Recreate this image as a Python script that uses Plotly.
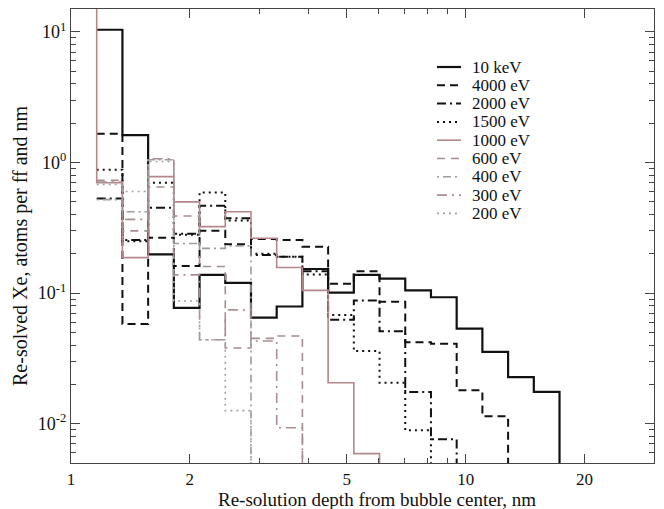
import math
import plotly.graph_objects as go

# Bin edges of the depth histogram (nm)
EDGES = [1.0, 1.1618, 1.3499, 1.5683, 1.8221, 2.1170, 2.4596, 2.8577, 3.3201,
         3.8574, 4.4817, 5.2070, 6.0496, 7.0287, 8.1662, 9.4877, 11.0232,
         12.8071, 14.8797, 17.2878]

# Series: label, first bin index, values per bin
names = ["10 keV", "4000 eV", "2000 eV", "1500 eV", "1000 eV",
         "600 eV", "400 eV", "300 eV", "200 eV"]
start_bins = [1, 1, 1, 1, 0, 1, 1, 1, 1]

v_10kev = [10.4, 1.62, 0.198, 0.077, 0.138, 0.12, 0.065, 0.079, 0.153, 0.101,
           0.138, 0.129, 0.105, 0.093, 0.0534, 0.0355, 0.0227, 0.0175]
v_4000 = [1.66, 0.058, 0.266, 0.161, 0.30, 0.237, 0.26, 0.255, 0.227, 0.118,
          0.147, 0.086, 0.042, 0.041, 0.018, 0.0114]
v_2000 = [0.53, 0.255, 0.45, 0.285, 0.467, 0.374, 0.196, 0.19, 0.147, 0.0626,
          0.088, 0.051, 0.0175, 0.0076]
v_1500 = [0.88, 0.25, 0.70, 0.28, 0.59, 0.36, 0.20, 0.19, 0.139, 0.068,
          0.036, 0.0206, 0.0089]
v_1000 = [20.0, 0.70, 0.187, 0.78, 0.50, 0.323, 0.42, 0.263, 0.157, 0.105,
          0.0206, 0.0059]
v_600 = [0.73, 0.30, 0.65, 0.39, 0.16, 0.038, 0.045, 0.047]
v_400 = [0.52, 0.42, 1.05, 0.24, 0.22, 0.23]
v_300 = [0.71, 0.367, 1.07, 0.138, 0.044, 0.0744, 0.043, 0.0093]
v_200 = [0.68, 0.60, 1.02, 0.087, 0.044, 0.0126]
values = [v_10kev, v_4000, v_2000, v_1500, v_1000, v_600, v_400, v_300, v_200]

x_title = "Re-solution depth from bubble center, nm"
y_title = "Re-solved Xe, atoms per ff and nm"

colors = ["#111111", "#111111", "#111111", "#111111", "#b5878a",
          "#a48f8f", "#9c9c9c", "#a99090", "#a3a3a3"]
dashes = ["solid", "8px,5px", "9px,4px,2px,4px", "2px,4px", "solid",
          "8px,6px", "2px,4px,8px,4px", "10px,5px,2px,5px", "2px,4px"]
widths = [2.2, 2.0, 2.0, 2.0, 1.6, 1.6, 1.6, 1.6, 1.6]

Y_MIN, Y_MAX = 0.005, 15
X_MIN, X_MAX = 1, 30
FLOOR = Y_MIN / 10

SERIF = "Liberation Serif, Times New Roman, serif"

W, H = 664, 509
M_L, M_R, M_T, M_B = 71, 10, 9, 46
PW, PH = W - M_L - M_R, H - M_T - M_B

fig = go.Figure()
for name, sb, vals, c, d, w in zip(names, start_bins, values, colors, dashes, widths):
    xs = list(EDGES[sb:sb + len(vals) + 1])
    ys = list(vals) + [vals[-1]]
    xs = xs + [xs[-1]]
    ys = ys + [FLOOR]
    fig.add_trace(go.Scatter(x=xs, y=ys, mode="lines", name=name, showlegend=False,
                             line=dict(shape="hv", color=c, dash=d, width=w)))

def px_x(p):
    return (p - M_L) / PW
def px_y(p):
    return 1 - (p - M_T) / PH

# manual legend (tight row spacing as in the reference)
LEG_X0, LEG_X1, LEG_TX = 437, 461, 470   # px
LEG_Y0, LEG_DY = 67, 18.3                 # px

shapes, annotations = [], []
for i, (name, c, d, w) in enumerate(zip(names, colors, dashes, widths)):
    yy = px_y(LEG_Y0 + i * LEG_DY)
    shapes.append(dict(type="line", xref="paper", yref="paper",
                       x0=px_x(LEG_X0), x1=px_x(LEG_X1), y0=yy, y1=yy,
                       line=dict(color=c, dash=d, width=w)))
    annotations.append(dict(xref="paper", yref="paper", x=px_x(LEG_TX), y=yy,
                            xanchor="left", yanchor="middle", showarrow=False,
                            text=name, font=dict(family=SERIF, size=17, color="#111")))

# axis titles placed as in the reference
annotations.append(dict(xref="paper", yref="paper", x=px_x(377), y=px_y(499),
                        xanchor="center", yanchor="middle", showarrow=False,
                        text=x_title, font=dict(family=SERIF, size=19, color="#111")))
annotations.append(dict(xref="paper", yref="paper", x=px_x(21), y=px_y(246),
                        xanchor="center", yanchor="middle", showarrow=False,
                        textangle=-90,
                        text=y_title, font=dict(family=SERIF, size=20, color="#111")))

y_minor = [m * 10 ** e for e in range(-3, 2) for m in range(2, 10)
           if Y_MIN <= m * 10 ** e <= Y_MAX]
x_minor = [3, 4, 6, 7, 8, 9, 30]

axis_common = dict(showline=True, linecolor="#444", linewidth=1.3, mirror="ticks",
                   ticks="inside", ticklen=9, tickwidth=1.3, tickcolor="#444",
                   showgrid=False, zeroline=False, automargin=False)

fig.update_xaxes(type="log", range=[math.log10(X_MIN), math.log10(X_MAX)],
                 tickvals=[1, 2, 5, 10, 20], ticktext=["1", "2", "5", "10", "20"],
                 tickfont=dict(family=SERIF, size=17, color="#111"),
                 minor=dict(tickvals=x_minor, ticks="inside", ticklen=5,
                            tickwidth=1.2, tickcolor="#444"),
                 **axis_common)
fig.update_yaxes(type="log", range=[math.log10(Y_MIN), math.log10(Y_MAX)],
                 tickvals=[0.01, 0.1, 1, 10],
                 ticktext=["10<sup>-2</sup>", "10<sup>-1</sup>", "10<sup>0</sup>", "10<sup>1</sup>"],
                 tickfont=dict(family=SERIF, size=18, color="#111"),
                 minor=dict(tickvals=y_minor, ticks="inside", ticklen=5,
                            tickwidth=1.2, tickcolor="#444"),
                 **axis_common)

fig.update_layout(
    width=W, height=H,
    margin=dict(l=M_L, r=M_R, t=M_T, b=M_B),
    paper_bgcolor="white", plot_bgcolor="white",
    showlegend=False,
    shapes=shapes, annotations=annotations,
)

fig.write_html("out.html")
